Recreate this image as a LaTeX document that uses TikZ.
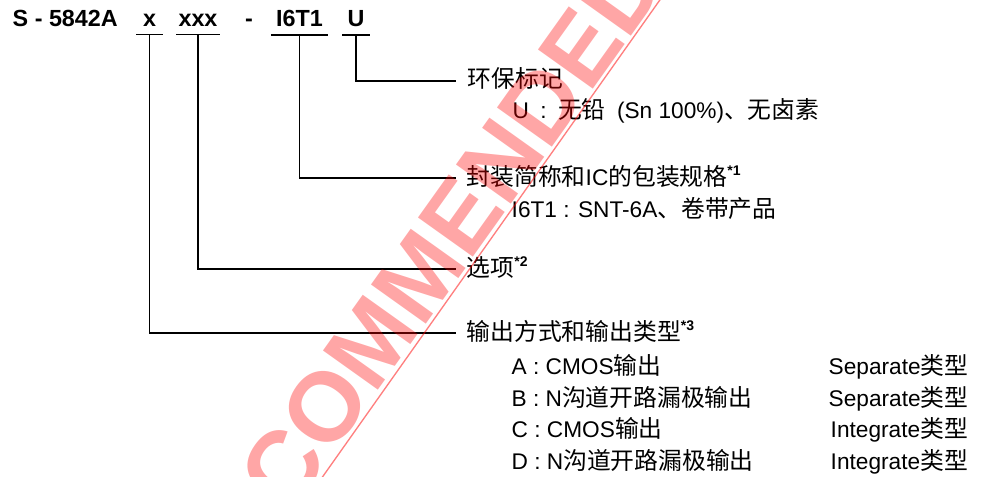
\documentclass[tikz,border=0pt]{standalone}
\usepackage{fontspec}
\setmainfont{Liberation Sans}
\newfontfamily\zhfont[Scale=1.05]{Noto Sans CJK SC}
\newcommand{\zh}[1]{{\zhfont #1}}
\newcommand{\fnmark}[1]{\raisebox{7.5pt}{\fontsize{10.5}{10.5}\selectfont\bfseries *#1}}
\usepackage{tikz}
\usetikzlibrary{calc}
\tikzstyle{partno}=[font=\fontsize{17.5}{20}\selectfont\bfseries,inner xsep=0pt,inner ysep=5.25pt]
\tikzstyle{lbl}=[font=\fontsize{17}{20}\selectfont,anchor=base west,inner sep=0pt]
\tikzstyle{wmark}=[font=\fontsize{73.5}{73.5}\selectfont\bfseries,text=red,text opacity=0.35,inner sep=0pt]

\begin{document}
\begin{tikzpicture}[x=0.75pt,y=0.75pt,line width=1.1pt]
\useasboundingbox (0,0) rectangle (981,476);
% part number
\node [partno,anchor=base west,inner sep=0pt] (sname) at (12,449) {S - 5842A};
\node [partno,anchor=base,minimum width=18.75pt] (sx) at (149.5,449) {x};
\node [partno,anchor=base,minimum width=31.5pt] (sxxx) at (198,449) {xxx};
\node [partno,anchor=base] (sdash) at (249,449) {-};
\node [partno,anchor=base,minimum width=42pt] (si6t1) at (299.5,449) {I6T1};
\node [partno,anchor=base,minimum width=19.5pt] (su) at (356,449) {U};
\foreach \n in {sx,sxxx,si6t1,su}
  \draw (\n.south west) -- (\n.south east);

% labels
\node [lbl] (lu) at (467,388) {\zh{环保标记}};
\node [lbl] (luv) at (512,358) {U\enspace:\enspace\zh{无铅}\enspace(Sn 100\%)\zh{、无卤素}};
\node [lbl] (lpkg) at (466,291) {\zh{封装简称和}IC\zh{的包装规格}\fnmark{1}};
\node [lbl] (lpkgv) at (511,259) {I6T1 : SNT-6A\zh{、卷带产品}};
\node [lbl] (lopt) at (466,200) {\zh{选项}\fnmark{2}};
\node [lbl] (lout) at (466,136) {\zh{输出方式和输出类型}\fnmark{3}};
\node [lbl] (la) at (511,102) {A : CMOS\zh{输出}};
\node [lbl] (lb) at (511,70) {B : N\zh{沟道开路漏极输出}};
\node [lbl] (lc) at (511,39) {C : CMOS\zh{输出}};
\node [lbl] (ld) at (511,7) {D : N\zh{沟道开路漏极输出}};
\node [lbl] (ta) at (828,102) {Separate\zh{类型}};
\node [lbl] (tb) at (828,70) {Separate\zh{类型}};
\node [lbl] (tc) at (830,39) {Integrate\zh{类型}};
\node [lbl] (td) at (830,7) {Integrate\zh{类型}};

% connectors
\draw (su.south) |- ($(lu.base west)+(-11,7)$);
\draw (si6t1.south) |- ($(lpkg.base west)+(-10,7)$);
\draw (sxxx.south) |- ($(lopt.base west)+(-10,7)$);
\draw (sx.south) |- ($(lout.base west)+(-10,7)$);

% watermark
\begin{scope}
\clip (0,0) rectangle (981,476);
\node [wmark,anchor=base west,rotate=54.5] (wm) at (289,-40) {COMMENDED};
\coordinate (wa) at (309,-20);
\coordinate (wb) at (674,496);
\draw [red,opacity=0.5,line width=1pt] (wa) -- (wb);
\end{scope}
\end{tikzpicture}
\end{document}
